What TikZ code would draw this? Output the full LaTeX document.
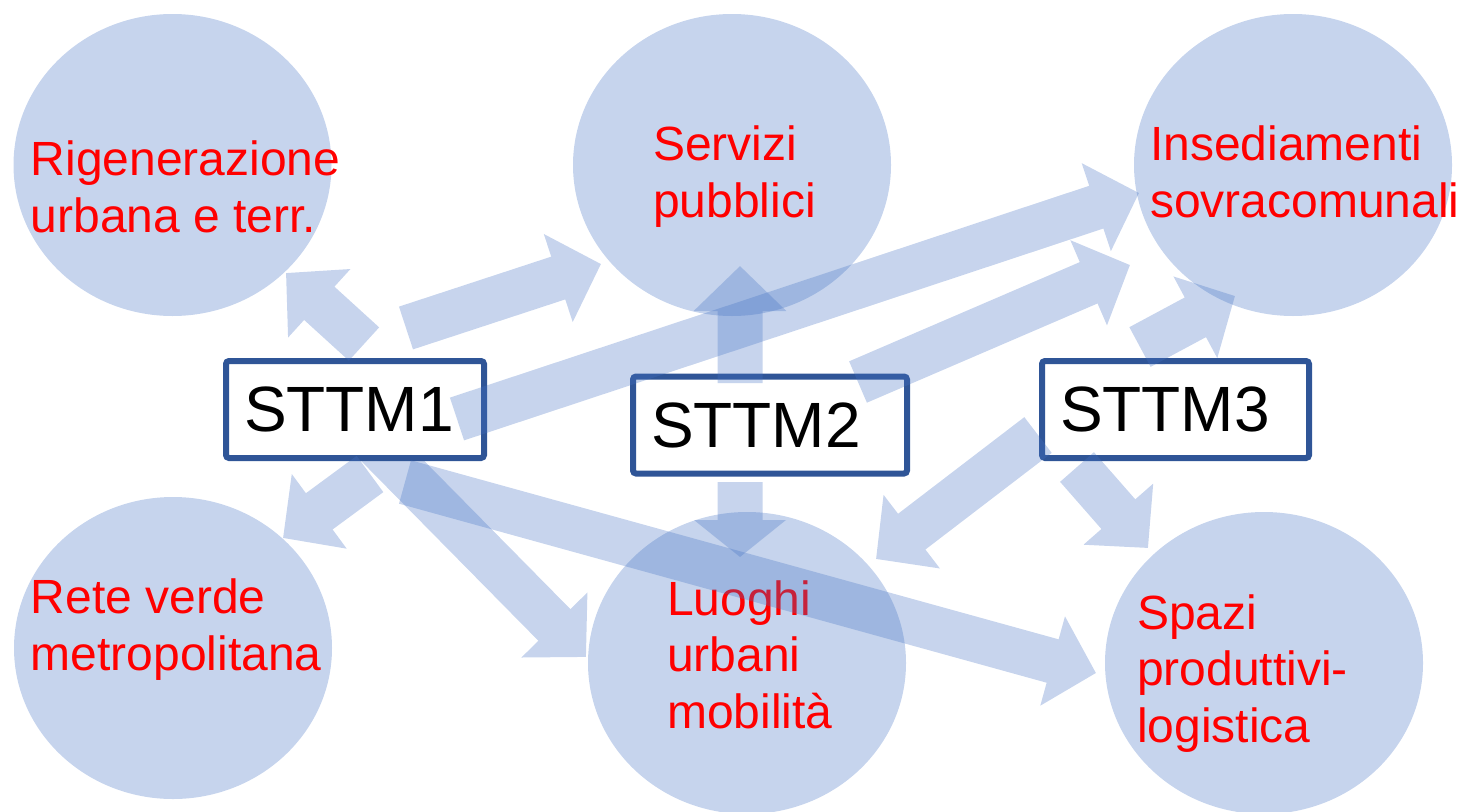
\documentclass[tikz,border=0pt]{standalone}
\usepackage{fontspec}
\setmainfont{Liberation Sans}
\usetikzlibrary{arrows.meta,shapes.geometric}
\definecolor{flowblue}{HTML}{4472C4}
\definecolor{ballblue}{HTML}{C6D4ED}
\definecolor{boxblue}{HTML}{2F5597}
\begin{document}
\begin{tikzpicture}[x=1pt,y=-1pt,
	ball/.style={ellipse,fill=ballblue,minimum width=318pt,minimum height=302pt,inner sep=0pt},
	lab/.style={text=red,align=left,inner sep=0pt,anchor=base west,font=\fontsize{48}{56.5}\selectfont},
	sttm/.style={draw=boxblue,line width=6pt,fill=white,rounded corners=3pt,minimum height=97pt,align=left,inner xsep=18pt,inner ysep=0pt,font=\fontsize{64}{64}\selectfont},
	flow/.style={line width=45pt,draw=flowblue,-{Triangle[width=90pt,length=45pt]}}]
	\useasboundingbox (0,0) rectangle (1463,811);
	\node[ball] (rig) at (172.5,165) {};
	\node[ball] (ser) at (732,165) {};
	\node[ball] (ins) at (1293,165) {};
	\node[ball] (ret) at (173,648) {};
	\node[ball] (luo) at (747,663) {};
	\node[ball] (spa) at (1264,663) {};
	\node[lab] (rigt) at (30.5,232) {Rigenerazione\\urbana e terr.};
	\node[lab] (sert) at (653,217) {Servizi\\pubblici};
	\node[lab] (inst) at (1150,217) {Insediamenti\\sovracomunali};
	\node[lab] (rett) at (30.5,670) {Rete verde\\metropolitana};
	\node[lab] (luot) at (667,728) {Luoghi\\urbani\\mobilità};
	\node[lab] (spat) at (1137,742) {Spazi\\produttivi-\\logistica};
	\path
	(364,344) coordinate (P1) (286,273) coordinate (Q1)
	(406,328) coordinate (P2) (601,264) coordinate (Q2)
	(457,419) coordinate (P3) (1139,193) coordinate (Q3)
	(370,474) coordinate (P4) (283,538) coordinate (Q4)
	(372,440) coordinate (P5) (586,657) coordinate (Q5)
	(405,482) coordinate (P6) (1096,673) coordinate (Q6)
	(740,383) coordinate (P7) (740,266) coordinate (Q7)
	(740,482) coordinate (P8) (740,557) coordinate (Q8)
	(858,382) coordinate (P9) (1130,265) coordinate (Q9)
	(1140,347) coordinate (P10) (1235,296) coordinate (Q10)
	(1038,435) coordinate (P11) (876,559) coordinate (Q11)
	(1077,467) coordinate (P12) (1148,548) coordinate (Q12)
	;
	\begin{scope}[transparency group,opacity=.3]
		\draw[flow] (P5)--(Q5);
	\end{scope}
	\node[sttm,minimum width=258pt,text width=222pt] (S1) at (355,409.5) {STTM1};
	\node[sttm,minimum width=274pt,text width=238pt] (S2) at (770,425) {STTM2};
	\node[sttm,minimum width=267pt,text width=231pt] (S3) at (1175.5,409.5) {STTM3};
	\foreach \i in {1,2,3,4,6,7,9,10,11,12}{
		\begin{scope}[transparency group,opacity=.3]
			\draw[flow] (P\i)--(Q\i);
		\end{scope}
	}
	\begin{scope}[transparency group,opacity=.3]
		\draw[flow,-{Triangle[width=90pt,length=37pt]}] (P8)--(Q8);
	\end{scope}
\end{tikzpicture}
\end{document}
